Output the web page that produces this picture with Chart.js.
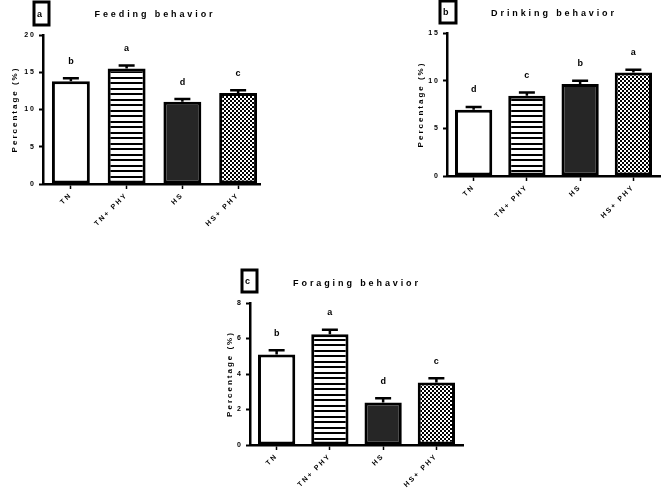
<!DOCTYPE html>
<html><head><meta charset="utf-8">
<script src="https://cdn.jsdelivr.net/npm/chart.js@4.4.1/dist/chart.umd.min.js"></script>
<style>
html,body{margin:0;padding:0;background:#fff;}
body{width:669px;height:497px;position:relative;overflow:hidden;}
.box{position:absolute;overflow:hidden;}
canvas{display:block;}
</style></head>
<body>
<div class="box" id="wa" style="left:0;top:0;width:261px;height:245px;"><canvas id="ca" width="270" height="245"></canvas></div>
<div class="box" id="wb" style="left:390px;top:0;width:279px;height:245px;"><canvas id="cb" width="279" height="245"></canvas></div>
<div class="box" id="wc" style="left:190px;top:262px;width:290px;height:235px;"><canvas id="cc" width="290" height="235"></canvas></div>
<script>
// ---- data ----
const categories = ['TN', 'TN+ PHY', 'HS', 'HS+ PHY'];
const feedingMean = [13.8, 15.5, 11.05, 12.2];
const feedingSem = [0.4, 0.4, 0.35, 0.4];
const feedingLetters = ['b', 'a', 'd', 'c'];
const drinkingMean = [6.95, 8.43, 9.66, 10.85];
const drinkingSem = [0.3, 0.32, 0.32, 0.3];
const drinkingLetters = ['d', 'c', 'b', 'a'];
const foragingMean = [5.1, 6.24, 2.4, 3.52];
const foragingSem = [0.24, 0.26, 0.24, 0.24];
const foragingLetters = ['b', 'a', 'd', 'c'];

function stripePattern(ctx){
  const c = document.createElement('canvas'); c.width = 8; c.height = 11;
  const g = c.getContext('2d');
  g.fillStyle = '#fff'; g.fillRect(0,0,8,11);
  g.fillStyle = '#000'; g.fillRect(0,0,8,2); g.fillRect(0,5,8,2);
  return ctx.createPattern(c, 'repeat');
}
function checkPattern(ctx){
  const c = document.createElement('canvas'); c.width = 4; c.height = 4;
  const g = c.getContext('2d');
  g.fillStyle = '#000'; g.fillRect(0,0,4,4);
  g.fillStyle = '#fff'; g.fillRect(0,0,2,2); g.fillRect(2,2,2,2);
  return ctx.createPattern(c, 'repeat');
}

const spacingPlugin = {
  id: 'spacing',
  beforeUpdate(chart){ chart.ctx.letterSpacing = '2px'; },
  beforeLayout(chart){ chart.ctx.letterSpacing = '2px'; },
  beforeDraw(chart){ chart.ctx.letterSpacing = '2px'; }
};

const decoPlugin = {
  id: 'deco',
  afterDatasetsDraw(chart, args, opts){
    const ctx = chart.ctx;
    const ys = chart.scales.y;
    const meta = chart.getDatasetMeta(0);
    ctx.save();
    meta.data.forEach((bar, i) => {
      const top = ys.getPixelForValue(opts.mean[i] + opts.sem[i]);
      ctx.strokeStyle = '#000'; ctx.lineWidth = 2.5;
      ctx.beginPath();
      ctx.moveTo(bar.x, bar.y); ctx.lineTo(bar.x, top);
      ctx.moveTo(bar.x - 8, top); ctx.lineTo(bar.x + 8, top);
      ctx.stroke();
      ctx.fillStyle = '#000';
      ctx.font = 'bold 9px "Liberation Sans", Arial, sans-serif';
      ctx.letterSpacing = '0px';
      ctx.textAlign = 'center'; ctx.textBaseline = 'middle';
      ctx.fillText(opts.letters[i], bar.x, top - 17);
    });
    // title
    ctx.font = 'bold 9px "Liberation Sans", Arial, sans-serif';
    ctx.letterSpacing = '2.9px';
    ctx.textAlign = 'center'; ctx.textBaseline = 'middle';
    ctx.fillText(opts.title, opts.titleX, opts.titleY);
    // panel label box
    const b = opts.boxRect;
    ctx.lineWidth = 3; ctx.strokeStyle = '#000';
    ctx.strokeRect(b[0], b[1], b[2], b[3]);
    ctx.letterSpacing = '0px';
    ctx.font = 'bold 9px "Liberation Sans", Arial, sans-serif';
    ctx.textAlign = 'left';
    ctx.fillText(opts.panel, b[0] + 3, b[1] + b[3] / 2 + 1);
    ctx.restore();
  }
};

function makeChart(id, mean, sem, letters, cfg){
  const canvas = document.getElementById(id);
  const ctx = canvas.getContext('2d');
  const tickFont = {family: '"Liberation Sans", Arial, sans-serif', size: 7, weight: 'bold'};
  return new Chart(canvas, {
    type: 'bar',
    data: {
      labels: categories,
      datasets: [{
        data: mean,
        backgroundColor: ['#ffffff', stripePattern(ctx), '#262626', checkPattern(ctx)],
        borderColor: '#000',
        borderWidth: 3,
        borderSkipped: false,
        barPercentage: cfg.barPct,
        categoryPercentage: 1
      }]
    },
    options: {
      responsive: false,
      animation: false,
      devicePixelRatio: 1,
      layout: {padding: cfg.padding},
      plugins: {
        legend: {display: false},
        tooltip: {enabled: false},
        deco: {mean: mean, sem: sem, letters: letters, title: cfg.title, titleX: cfg.titleX, titleY: cfg.titleY, boxRect: cfg.boxRect, panel: cfg.panel}
      },
      scales: {
        x: {
          grid: {display: true, drawOnChartArea: false, offset: false, tickLength: 5, tickWidth: 1.5, tickColor: '#000'},
          border: {display: true, color: '#000', width: 2.5},
          ticks: {color: '#000', font: tickFont, minRotation: 45, maxRotation: 45, padding: 2, autoSkip: false},
          afterFit(s){ s.height = cfg.xH; }
        },
        y: {
          min: 0, max: cfg.ymax,
          grid: {display: true, drawOnChartArea: false, tickLength: 4, tickWidth: 2, tickColor: '#000'},
          border: {display: true, color: '#000', width: 2.5},
          ticks: {color: '#000', font: tickFont, stepSize: cfg.step, padding: 3},
          title: {display: true, text: 'Percentage (%)', color: '#000', font: {family: '"Liberation Sans", Arial, sans-serif', size: 8, weight: 'bold'}, padding: {top: 10, bottom: 0}},
          afterFit(s){ s.width = cfg.yW; }
        }
      }
    },
    plugins: [spacingPlugin, decoPlugin]
  });
}

makeChart('ca', feedingMean, feedingSem, feedingLetters, {
  barPct: 0.68, padding: {top: 35, left: 0, right: 4, bottom: 0}, yW: 43, xH: 61,
  ymax: 20, step: 5, title: 'Feeding behavior', titleX: 155, titleY: 15, boxRect: [34, 2, 15, 23], panel: 'a'
});
makeChart('cb', drinkingMean, drinkingSem, drinkingLetters, {
  barPct: 0.7, padding: {top: 33, left: 16, right: 9, bottom: 0}, yW: 41, xH: 69,
  ymax: 15, step: 5, title: 'Drinking behavior', titleX: 164, titleY: 14, boxRect: [50, 1, 16, 22], panel: 'b'
});
makeChart('cc', foragingMean, foragingSem, foragingLetters, {
  barPct: 0.7, padding: {top: 41, left: 25, right: 17, bottom: 0}, yW: 35, xH: 52,
  ymax: 8, step: 2, title: 'Foraging behavior', titleX: 167, titleY: 22, boxRect: [52, 8, 15, 22], panel: 'c'
});
</script>
</body></html>
